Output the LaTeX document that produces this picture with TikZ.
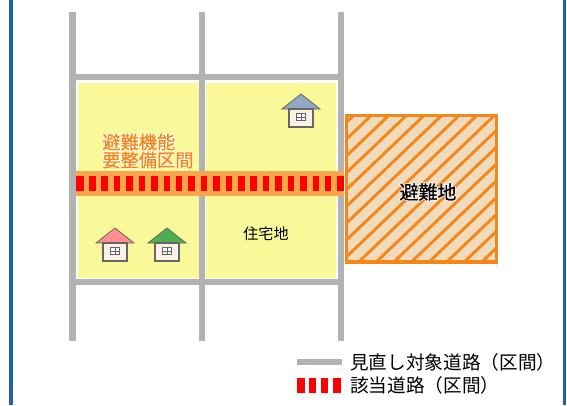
\documentclass[tikz,border=0pt]{standalone}
\usepackage{fontspec}
\setmainfont{Noto Sans CJK JP}
\newfontfamily\halofont[FakeBold=9]{Noto Sans CJK JP}
\newfontfamily\semifont[FakeBold=0.8]{Noto Sans CJK JP}
\definecolor{framecol}{HTML}{1F5FAE}
\definecolor{roadcol}{HTML}{B2B2B2}
\definecolor{yardcol}{HTML}{F9F99A}
\definecolor{bandcol}{HTML}{F7A64C}
\definecolor{refcol}{HTML}{F0DCBC}
\definecolor{hatchcol}{HTML}{F5861A}
\definecolor{wallcol}{HTML}{FDF0E4}
\definecolor{pinkroof}{HTML}{FF8F8F}
\definecolor{greenroof}{HTML}{4CAF50}
\definecolor{blueroof}{HTML}{8FA9C4}
\newcommand{\drawhouse}[3]{%
  \fill[#3,draw=black!60,line width=0.6pt] (#1-19,#2+15) -- (#1,#2) -- (#1+19,#2+15) -- cycle;
  \fill[wallcol,draw=black!60,line width=0.9pt] (#1-12,#2+15) rectangle (#1+12,#2+33);
  \draw[black!60,fill=white,line width=0.5pt] (#1-4.5,#2+19.5) rectangle (#1+4.5,#2+26.5);
  \draw[black!60,line width=0.5pt] (#1,#2+19.5) -- (#1,#2+26.5) (#1-4.5,#2+23) -- (#1+4.5,#2+23);
}
\tikzset{
  road/.style={roadcol,line width=4.7pt},
  yard/.style={fill=yardcol,draw=none},
  reddash/.style={fill=red,draw=none},
  hatchline/.style={hatchcol,line width=2.2pt},
  zonelabel/.style={inner sep=0pt,anchor=west,text=hatchcol,font=\fontsize{13.7pt}{13.7pt}\semifont},
  zonehalo/.style={inner sep=0pt,anchor=west,text=white,font=\fontsize{13.7pt}{13.7pt}\halofont},
  reflabel/.style={inner sep=0pt,font=\fontsize{14.2pt}{14.2pt}\semifont},
  refhalo/.style={inner sep=0pt,text=white,font=\fontsize{14.2pt}{14.2pt}\halofont},
  leglabel/.style={inner sep=0pt,anchor=west,font=\fontsize{14pt}{14pt}\selectfont},
}
\begin{document}
\begin{tikzpicture}[x=0.75pt,y=-0.75pt]
\useasboundingbox (0,0) rectangle (567,405);
\fill[white] (0,0) rectangle (567,405);
\draw[framecol,line width=2.4pt] (11,0) -- (11,405) (564.5,0) -- (564.5,405);
% yards
\fill[yard] (78,83) rectangle (199,277.5);
\fill[yard] (206,83) rectangle (336,277.5);
% roads
\draw[road] (72.5,12) -- (72.5,341);
\draw[road] (202,12) -- (202,341);
\draw[road] (341,12) -- (341,341);
\draw[road] (72.5,77) -- (341,77);
\draw[road] (72.5,282) -- (341,282);
% section band
\fill[bandcol] (76,171) rectangle (344,196);
\fill[reddash] (76,176) rectangle (84,191);
\foreach \i in {0,...,20} {
  \fill[reddash] ({89+12.42*\i},176) rectangle ({95.5+12.42*\i},191);
}
% refuge
\fill[refcol] (346.5,115.5) rectangle (496.5,262);
\begin{scope}
  \clip (346.5,115.5) rectangle (496.5,262);
  \foreach \i in {-9,...,9} {
    \draw[hatchline] ({360.7+17.6*\i-2.1},262) -- ({360.7+17.6*\i+153.9},113);
  }
\end{scope}
\draw[hatchcol,line width=2.4pt] (346.5,115.5) rectangle (496.5,262);
% houses
\drawhouse{115}{228}{pinkroof}
\drawhouse{167}{228}{greenroof}
\drawhouse{301}{94}{blueroof}
% labels
\node[zonehalo] (zonea) at (102,142) {避難機能};
\node[zonehalo] (zoneb) at (102,160) {要整備区間};
\node[zonelabel] (zonec) at (102,142) {避難機能};
\node[zonelabel] (zoned) at (102,160) {要整備区間};
\node[refhalo] (refa) at (428,192) {避難地};
\node[reflabel] (refb) at (428,192) {避難地};
\node[inner sep=0pt,font=\fontsize{11.3pt}{12pt}\selectfont] (res) at (266,233.5) {住宅地};
% legend
\draw[road] (297,362) -- (342,362);
\foreach \xa/\xb in {297/305,309/316,321/328,333/341} {
  \fill[reddash] (\xa,378) rectangle (\xb,393);
}
\node[leglabel] (lega) at (350,362) {見直し対象道路（区間）};
\node[leglabel] (legb) at (350,385) {該当道路（区間）};
\end{tikzpicture}
\end{document}
